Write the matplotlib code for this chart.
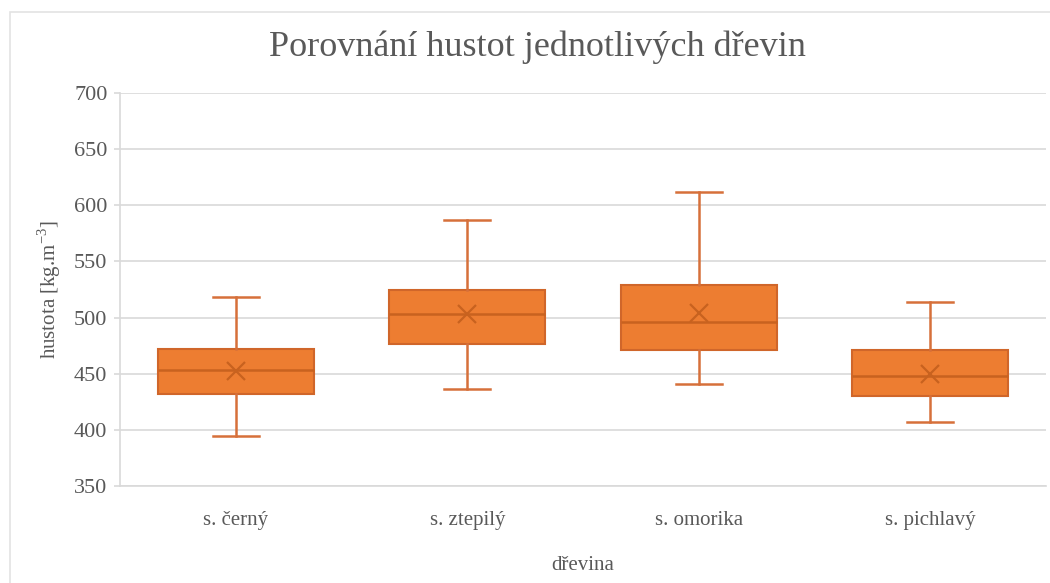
import matplotlib
matplotlib.use("Agg")
import matplotlib.pyplot as plt
from matplotlib.patches import Rectangle

# hodnoty (kg.m-3)
druhy = ["s. černý", "s. ztepilý", "s. omorika", "s. pichlavý"]
whisk_lo = [394, 436, 441, 407]
q1 = [432, 476, 471, 430]
median = [453, 503, 496, 448]
mean = [452, 503, 504, 450]
q3 = [472, 525, 529, 471]
whisk_hi = [518, 587, 612, 514]

plt.rcParams["font.family"] = ["Liberation Serif", "DejaVu Serif"]
plt.rcParams["mathtext.fontset"] = "custom"
plt.rcParams["mathtext.rm"] = "Liberation Serif"

seda = "#595959"
oranz = "#ED7D31"

fig = plt.figure(figsize=(10.5, 5.83), dpi=100)
fig.patches.append(Rectangle((10 / 1050, -0.1), 1.2, (583 - 12) / 583 + 0.1,
                             transform=fig.transFigure, fill=False,
                             edgecolor="#E3E3E3", lw=1.2))
ax = fig.add_axes([120 / 1050, 1 - 485.7 / 583, (1046 - 120) / 1050, (485.7 - 93.3) / 583])

stats = []
for i in range(len(druhy)):
    stats.append(dict(whislo=whisk_lo[i], q1=q1[i], med=median[i], mean=mean[i],
                      q3=q3[i], whishi=whisk_hi[i], fliers=[], label=druhy[i]))

ax.bxp(stats, positions=range(1, len(druhy) + 1), widths=0.675, capwidths=0.2,
       showmeans=True, patch_artist=True,
       boxprops=dict(facecolor=oranz, edgecolor="#D0662A", lw=1.5),
       medianprops=dict(color="#C8621F", lw=1.8),
       whiskerprops=dict(color="#D6703A", lw=1.8),
       capprops=dict(color="#D6703A", lw=1.8),
       meanprops=dict(marker="x", markersize=13, markeredgecolor="#C8621F",
                      markeredgewidth=1.6))

ax.set_xlim(0.5, len(druhy) + 0.5)
ax.set_ylim(350, 700)
ax.set_yticks(range(350, 701, 50))
ax.yaxis.grid(True, color="#D9D9D9", lw=1.2)
ax.set_axisbelow(True)
for s in ["top", "right"]:
    ax.spines[s].set_visible(False)
ax.spines["left"].set_color("#D9D9D9")
ax.spines["bottom"].set_color("#D9D9D9")
ax.spines["left"].set_linewidth(1.2)
ax.spines["bottom"].set_linewidth(1.2)
ax.tick_params(axis="y", length=4, width=1.2, color="#D9D9D9", pad=5,
               labelsize=16, labelcolor=seda)
ax.tick_params(axis="x", length=0, pad=18, labelsize=15, labelcolor=seda)

ax.set_ylabel("hustota [kg.m$^{-3}$]", fontsize=15, color=seda, labelpad=8)
fig.text(583 / 1050, 1 - 565 / 583, "dřevina", ha="center", va="center",
         fontsize=15, color=seda)
fig.text(537 / 1050, 1 - 47 / 583, "Porovnání hustot jednotlivých dřevin",
         ha="center", va="center", fontsize=26, color=seda)

fig.savefig("out.png", dpi=100)
